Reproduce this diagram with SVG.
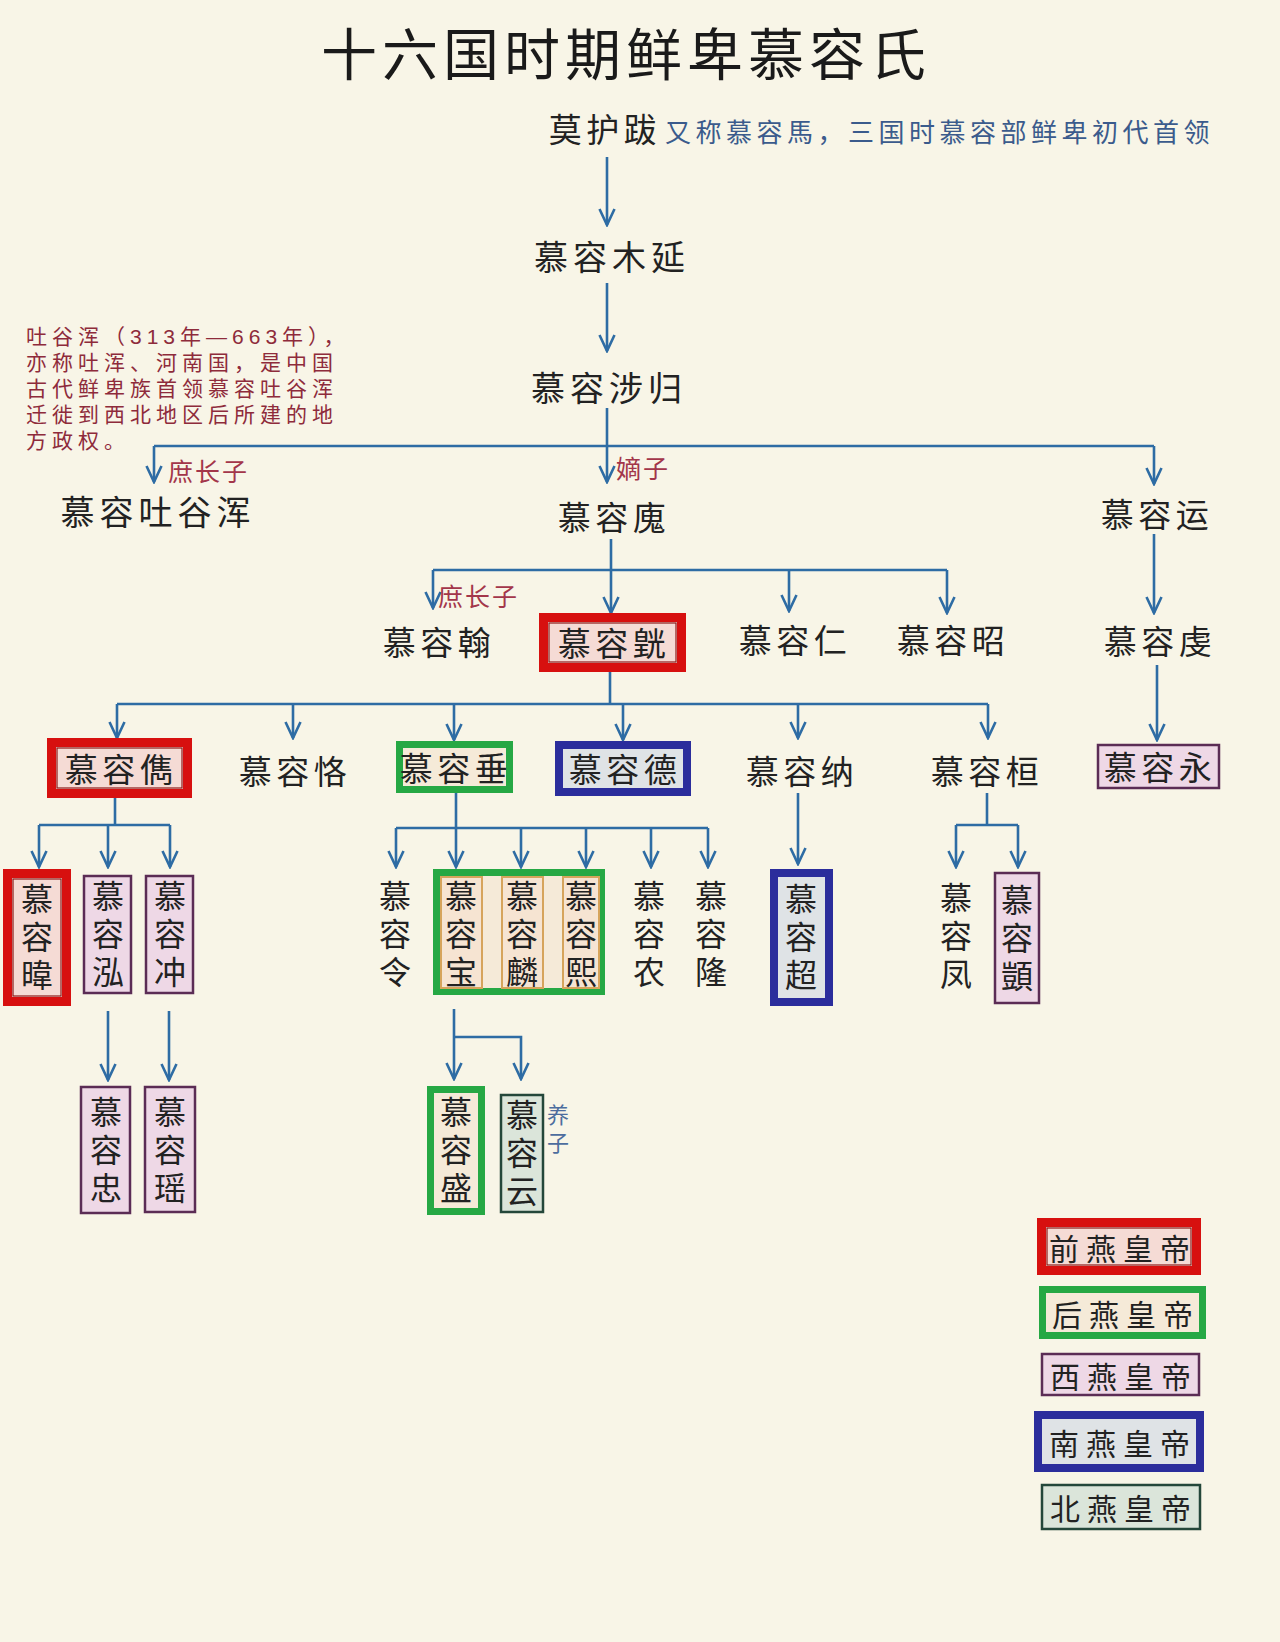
<svg xmlns="http://www.w3.org/2000/svg" width="1280" height="1642" viewBox="0 0 1280 1642">
<defs>
<style>
text{font-family:"Noto Sans CJK SC","Noto Sans",sans-serif;fill:#222;dominant-baseline:central;text-anchor:middle}
.title{font-size:56px;letter-spacing:5px;fill:#1a1a1a}
.n{font-size:33px;letter-spacing:4.5px}
.n4{font-size:34px;letter-spacing:5px}
.v{font-size:32px;letter-spacing:6px;writing-mode:vertical-rl}
.note{font-family:"Liberation Sans","Noto Sans CJK SC",sans-serif;font-size:21px;letter-spacing:5px;fill:#8e2b3b;text-anchor:start}
.lab{font-size:25px;fill:#a3364a;text-anchor:start;letter-spacing:2px}
.ann{font-size:26px;letter-spacing:4.5px;fill:#3b5b8c;text-anchor:start}
.yz{font-size:22px;letter-spacing:6px;fill:#4d6d9e;writing-mode:vertical-rl}
.leg{font-size:30px;letter-spacing:7px}
.red{fill:#f5dbd5;stroke:#d7100f;stroke-width:9}
.redin{fill:none;stroke:#8a1a1a;stroke-width:1.2}
.grn{fill:#f5ead8;stroke:#26a844;stroke-width:7}
.blu{fill:#dfe3e6;stroke:#2b2d9c;stroke-width:8}
.pur{fill:#eed8e6;stroke:#5b2c55;stroke-width:2.5}
.dgr{fill:#dbe5da;stroke:#24473a;stroke-width:2.5}
.col{fill:#f6e4d2;stroke:#d6a45c;stroke-width:2}
.c{fill:none;stroke:#2e6ca4;stroke-width:2.6}
.a{marker-end:url(#arr)}
</style>
<marker id="arr" markerUnits="userSpaceOnUse" markerWidth="20" markerHeight="20" viewBox="0 0 20 20" refX="18" refY="10" orient="auto">
<path d="M2,2.5 L18,10 L2,17.5" fill="none" stroke="#2e6ca4" stroke-width="2.6"/>
</marker>
</defs>
<rect x="0" y="0" width="1280" height="1642" fill="#f8f5e7"/>

<g id="title"><text class="title" x="626" y="50">十六国时期鲜卑慕容氏</text></g>

<g id="connectors">
<path class="c a" d="M607,157 V225"/>
<path class="c a" d="M607,283 V351"/>
<path class="c a" d="M607,408 V482"/>
<path class="c" d="M154,446 H1154"/>
<path class="c a" d="M154,446 V482"/>
<path class="c a" d="M1154,446 V484"/>
<path class="c a" d="M611,539 V613"/>
<path class="c" d="M433,570 H947"/>
<path class="c a" d="M433,570 V608"/>
<path class="c a" d="M789,570 V611"/>
<path class="c a" d="M947,570 V613"/>
<path class="c a" d="M1154,534 V613"/>
<path class="c a" d="M1157,665 V740"/>
<path class="c" d="M610,672 V704"/>
<path class="c" d="M117,704 H988"/>
<path class="c a" d="M117,704 V738"/>
<path class="c a" d="M293,704 V738"/>
<path class="c a" d="M454,704 V740"/>
<path class="c a" d="M623,704 V740"/>
<path class="c a" d="M798,704 V738"/>
<path class="c a" d="M988,704 V738"/>
<path class="c" d="M115,798 V825"/>
<path class="c" d="M39,825 H170"/>
<path class="c a" d="M39,825 V867"/>
<path class="c a" d="M108,825 V867"/>
<path class="c a" d="M170,825 V867"/>
<path class="c a" d="M108,1011 V1080"/>
<path class="c a" d="M169,1011 V1080"/>
<path class="c" d="M456,793 V828"/>
<path class="c" d="M396,828 H708"/>
<path class="c a" d="M396,828 V867"/>
<path class="c a" d="M456,828 V867"/>
<path class="c a" d="M521,828 V867"/>
<path class="c a" d="M586,828 V867"/>
<path class="c a" d="M651,828 V867"/>
<path class="c a" d="M708,828 V867"/>
<path class="c a" d="M798,793 V864"/>
<path class="c" d="M987,793 V825"/>
<path class="c" d="M956,825 H1018"/>
<path class="c a" d="M956,825 V867"/>
<path class="c a" d="M1018,825 V867"/>
<path class="c a" d="M454,1009 V1079"/>
<path class="c a" d="M454,1037 H521 V1079"/>
</g>

<g id="mohuba">
<text class="n" x="605" y="128">莫护跋</text>
<text class="ann" x="665" y="130">又称慕容馬，三国时慕容部鲜卑初代首领</text>
</g>
<g id="muyan"><text class="n4" x="612" y="255">慕容木延</text></g>
<g id="shegui"><text class="n4" x="609" y="386">慕容涉归</text></g>

<g id="note">
<text class="note" x="26" y="336">吐谷浑（313年—663年），</text>
<text class="note" x="26" y="362">亦称吐浑、河南国，是中国</text>
<text class="note" x="26" y="388">古代鲜卑族首领慕容吐谷浑</text>
<text class="note" x="26" y="414">迁徙到西北地区后所建的地</text>
<text class="note" x="26" y="440">方政权。</text>
</g>

<g id="labels">
<text class="lab" x="168" y="470">庶长子</text>
<text class="lab" x="616" y="467">嫡子</text>
<text class="lab" x="438" y="595">庶长子</text>
</g>

<g id="tuyuhun"><text class="n4" x="158" y="510">慕容吐谷浑</text></g>
<g id="hui"><text class="n" x="614" y="516">慕容廆</text></g>
<g id="yun0"><text class="n" x="1157" y="513">慕容运</text></g>

<g id="han"><text class="n" x="439" y="641">慕容翰</text></g>
<g id="huang">
<rect class="red" x="543.5" y="617.5" width="138" height="50"/>
<rect class="redin" x="549" y="623" width="127" height="39"/>
<text class="n" x="614" y="642">慕容皝</text>
</g>
<g id="ren"><text class="n" x="795" y="639">慕容仁</text></g>
<g id="zhao"><text class="n" x="953" y="639">慕容昭</text></g>
<g id="qian"><text class="n" x="1160" y="640">慕容虔</text></g>
<g id="yong">
<rect class="pur" x="1098" y="745" width="121" height="43"/>
<text class="n" x="1160" y="766">慕容永</text>
</g>

<g id="jun">
<rect class="red" x="51.5" y="742.5" width="136" height="51"/>
<rect class="redin" x="57" y="748" width="125" height="40"/>
<text class="n" x="121" y="768">慕容儁</text>
</g>
<g id="ke"><text class="n" x="295" y="770">慕容恪</text></g>
<g id="chui">
<rect class="grn" x="399.5" y="744.5" width="110" height="45"/>
<text class="n" x="456" y="767">慕容垂</text>
</g>
<g id="de">
<rect class="blu" x="559" y="745" width="128" height="47"/>
<text class="n" x="625" y="768">慕容德</text>
</g>
<g id="na"><text class="n" x="802" y="770">慕容纳</text></g>
<g id="huan"><text class="n" x="987" y="770">慕容桓</text></g>

<g id="wei">
<rect class="red" x="7.5" y="873.5" width="59" height="128"/>
<rect class="redin" x="13" y="879" width="48" height="117"/>
<text class="v" x="37" y="940">慕容暐</text>
</g>
<g id="hong">
<rect class="pur" x="84" y="876" width="47" height="117"/>
<text class="v" x="108" y="937">慕容泓</text>
</g>
<g id="chong">
<rect class="pur" x="146" y="876" width="47" height="117"/>
<text class="v" x="170" y="937">慕容冲</text>
</g>
<g id="zhong">
<rect class="pur" x="81" y="1087" width="49" height="126"/>
<text class="v" x="106" y="1153">慕容忠</text>
</g>
<g id="yao">
<rect class="pur" x="145" y="1087" width="50" height="125"/>
<text class="v" x="170" y="1153">慕容瑶</text>
</g>

<g id="ling"><text class="v" x="395" y="937">慕容令</text></g>
<g id="bao-lin-xi">
<rect class="grn" x="436.5" y="872.5" width="165" height="119"/>
<rect class="col" x="441" y="877" width="41" height="111"/>
<rect class="col" x="502" y="877" width="41" height="111"/>
<rect class="col" x="563" y="877" width="36" height="111"/>
<text class="v" x="461" y="937">慕容宝</text>
<text class="v" x="522" y="937">慕容麟</text>
<text class="v" x="581" y="937">慕容熙</text>
</g>
<g id="nong"><text class="v" x="649" y="937">慕容农</text></g>
<g id="long"><text class="v" x="711" y="937">慕容隆</text></g>
<g id="chao">
<rect class="blu" x="774" y="873" width="55" height="129"/>
<text class="v" x="801" y="940">慕容超</text>
</g>
<g id="feng"><text class="v" x="956" y="939">慕容凤</text></g>
<g id="yi">
<rect class="pur" x="995" y="873" width="44" height="130"/>
<text class="v" x="1017" y="941">慕容顗</text>
</g>

<g id="sheng">
<rect class="grn" x="430.5" y="1089.5" width="51" height="122"/>
<text class="v" x="456" y="1153">慕容盛</text>
</g>
<g id="yun">
<rect class="dgr" x="501" y="1095" width="42" height="117"/>
<text class="v" x="522" y="1156">慕容云</text>
<text class="yz" x="558" y="1132">养子</text>
</g>

<g id="legend">
<g id="leg-qianyan">
<rect class="red" x="1041.5" y="1222.5" width="155" height="48"/>
<rect class="redin" x="1047" y="1228" width="144" height="37"/>
<text class="leg" x="1123" y="1247">前燕皇帝</text>
</g>
<g id="leg-houyan">
<rect class="grn" x="1042.5" y="1289.5" width="160" height="46"/>
<text class="leg" x="1126" y="1313">后燕皇帝</text>
</g>
<g id="leg-xiyan">
<rect class="pur" x="1042" y="1354" width="157" height="41"/>
<text class="leg" x="1124" y="1375">西燕皇帝</text>
</g>
<g id="leg-nanyan">
<rect class="blu" x="1038" y="1415" width="162" height="53"/>
<text class="leg" x="1123" y="1442">南燕皇帝</text>
</g>
<g id="leg-beiyan">
<rect class="dgr" x="1042" y="1485" width="158" height="44"/>
<text class="leg" x="1124" y="1507">北燕皇帝</text>
</g>
</g>
</svg>
